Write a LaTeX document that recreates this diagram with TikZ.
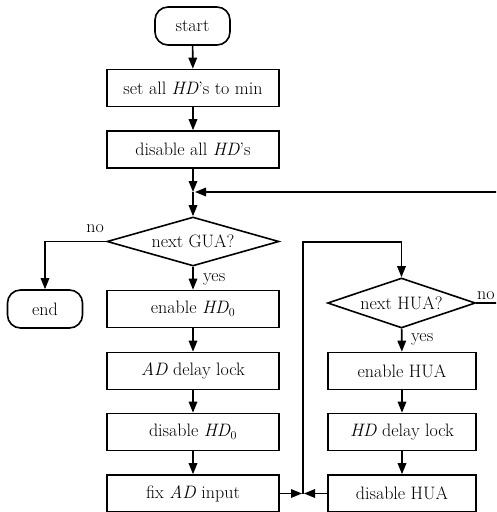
\documentclass[tikz,border=0pt]{standalone}
\usetikzlibrary{shapes.geometric,arrows.meta}
\begin{document}
\begin{tikzpicture}[x=1pt,y=-1pt,
  every node/.style={font=\fontsize{18}{21}\selectfont},
  proc/.style={draw,line width=1.6pt,minimum width=172pt,minimum height=37pt,inner sep=0pt},
  term/.style={draw,line width=1.6pt,rounded corners=13pt,minimum width=75pt,minimum height=38pt,inner sep=0pt},
  dec/.style={draw,line width=1.6pt,diamond,aspect=3.5,inner sep=0pt},
  lbl/.style={inner sep=0pt},
  flow/.style={line width=1.6pt,-{Triangle[length=11pt,width=8.5pt]}},
  link/.style={line width=1.6pt}]
\useasboundingbox (0,0) rectangle (496,512);
\clip (0,0) rectangle (496,512);
\node[term] (start) at (192.5,26) {start};
\node[proc] (b1) at (193,88) {set all \textit{HD}'s to min};
\node[proc] (b2) at (193,149.5) {disable all \textit{HD}'s};
\coordinate (j) at (193,192);
\node[dec,minimum width=172pt,minimum height=49pt] (gua) at (193,241.5) {next GUA?};
\node[term] (end) at (45,309) {end};
\node[proc] (e0) at (193,309) {enable \textit{HD}$_0$};
\node[proc] (adl) at (193,371) {\textit{AD} delay lock};
\node[proc] (d0) at (193,432) {disable \textit{HD}$_0$};
\node[proc] (fix) at (193,493.5) {fix \textit{AD} input};
\node[dec,minimum width=148pt,minimum height=50pt] (hua) at (401.5,303) {next HUA?};
\node[proc,minimum width=148pt] (eh) at (402,371) {enable HUA};
\node[proc,minimum width=148pt] (hdl) at (402,432) {\textit{HD} delay lock};
\node[proc,minimum width=148pt] (dh) at (402,493.5) {disable HUA};
\coordinate (k) at (303,493.5);
\coordinate (kt) at (303,242);
\coordinate (r) at (520,303);
\coordinate (rt) at (520,192);

\draw[flow] (start) -- (b1);
\draw[flow] (b1) -- (b2);
\draw[flow] (b2) -- (j);
\draw[flow] (j) -- (gua);
\draw[flow] (gua.west) -| (end.north);
\draw[flow] (gua) -- (e0);
\draw[flow] (e0) -- (adl);
\draw[flow] (adl) -- (d0);
\draw[flow] (d0) -- (fix);
\draw[flow] (fix) -- ([xshift=-1pt]k);
\draw[flow] (dh) -- ([xshift=1pt]k);
\draw[flow] (k) -- (kt) -| (hua.north);
\draw[flow] (hua) -- (eh);
\draw[flow] (eh) -- (hdl);
\draw[flow] (hdl) -- (dh);
\draw[flow] (hua.east) -- (r) -- (rt) -- ([xshift=2pt]j);

\node[lbl,anchor=base east] at (104,232) {no};
\node[lbl,anchor=base west] at (203,281) {yes};
\node[lbl,anchor=base west] at (477,299) {no};
\node[lbl,anchor=base west] at (411,341) {yes};
\end{tikzpicture}
\end{document}
